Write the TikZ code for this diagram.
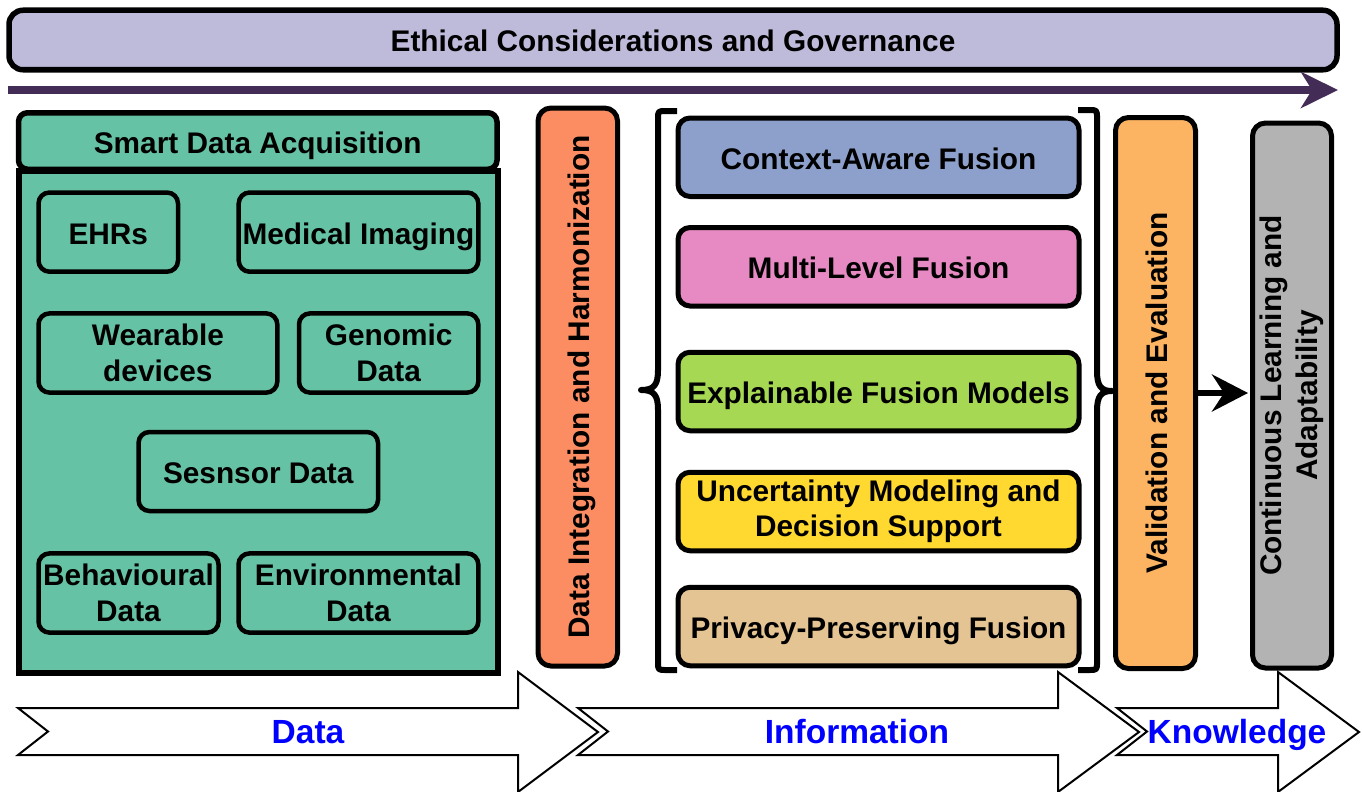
\documentclass[tikz,border=0pt]{standalone}
\usepackage{fontspec}
\setmainfont{Liberation Sans}
\usetikzlibrary{arrows.meta}
\definecolor{cTop}{HTML}{BEBADA}
\definecolor{cPurple}{RGB}{67,45,87}
\definecolor{cGreen}{HTML}{66C2A5}
\definecolor{cOrange}{HTML}{FC8D62}
\definecolor{cBlue}{HTML}{8DA0CB}
\definecolor{cPink}{HTML}{E78AC3}
\definecolor{cLime}{HTML}{A6D854}
\definecolor{cYellow}{HTML}{FFD92F}
\definecolor{cTan}{HTML}{E5C494}
\definecolor{cLOrange}{HTML}{FDB462}
\definecolor{cGrey}{HTML}{B3B3B3}
\definecolor{cLabel}{HTML}{0000FF}
\begin{document}
\begin{tikzpicture}[x=1pt,y=-1pt,
  txt/.style={font=\fontsize{29.8}{35.5}\selectfont\bfseries, align=center},
  capcentred/.style={text height=24pt, text depth=0pt},
  bx/.style={draw, line width=5.5pt, rounded corners=12pt, inner sep=0pt, txt},
  ibx/.style={draw, line width=4.5pt, rounded corners=11pt, inner sep=0pt, txt, fill=cGreen},
  fbx/.style={draw, line width=5pt, rounded corners=12pt, inner sep=0pt, txt, minimum width=401pt, minimum height=78.5pt},
  vbx/.style={draw, line width=5pt, rounded corners=13pt, inner sep=0pt, txt, rotate=90},
  bigarrow/.style={draw, line width=2pt, fill=white, line join=miter},
  brace/.style={draw, line width=6pt, line join=round, line cap=butt},
  lbl/.style={font=\fontsize{33.5}{38}\selectfont\bfseries, text=cLabel, inner sep=0pt, text height=24pt, text depth=0pt}]
\useasboundingbox (0,0) rectangle (1362,792);

% top bar
\node[bx, capcentred, fill=cTop, rounded corners=14pt, minimum width=1328pt, minimum height=59.5pt] (ethics) at (673,40) {Ethical Considerations and Governance};

% purple arrow
\coordinate (pa) at (8,90);
\coordinate (pb) at (1338,90);
\draw[cPurple, line width=8pt, -{Stealth[length=37pt,width=36pt,inset=11pt]}] (pa) -- (pb);

% smart data acquisition
\node[draw, line width=6pt, fill=cGreen, inner sep=0pt, minimum width=479.5pt, minimum height=502pt] (body) at (258.25,422) {};
\node[bx, capcentred, fill=cGreen, rounded corners=9pt, minimum width=478.5pt, minimum height=56.5pt] (smart) at (257.75,141) {Smart Data Acquisition};

\node[ibx, capcentred, minimum width=139.5pt, minimum height=79.2pt] (ehr) at (108.25,232.1) {EHRs};
\node[ibx, capcentred, minimum width=239.6pt, minimum height=79.2pt] (med) at (358.5,232.1) {Medical Imaging};
\node[ibx, minimum width=238.8pt, minimum height=79.2pt] (wear) at (157.9,353) {Wearable\\devices};
\node[ibx, minimum width=179.3pt, minimum height=79.2pt] (geno) at (388.65,353) {Genomic\\Data};
\node[ibx, capcentred, minimum width=239.5pt, minimum height=79pt] (sens) at (258.25,471.5) {Sesnsor Data};
\node[ibx, minimum width=180pt, minimum height=79.2pt] (behav) at (128.5,593) {Behavioural\\Data};
\node[ibx, minimum width=239.8pt, minimum height=79.2pt] (env) at (358.4,593) {Environmental\\Data};

% integration
\node[vbx, capcentred, fill=cOrange, minimum width=558pt, minimum height=79.5pt] (integ) at (577.75,387) {Data Integration and Harmonization};

% braces
\draw[brace] (677,111) -- (666,111) .. controls (658,111) .. (658,119) -- (658,370)
  .. controls (658,385) and (654,390) .. (641,390)
  .. controls (654,390) and (658,395) .. (658,410) -- (658,662)
  .. controls (658,670) .. (666,670) -- (677,670);
\draw[brace] (1078,110) -- (1089,110) .. controls (1097,110) .. (1097,118) -- (1097,371)
  .. controls (1097,386) and (1101,391) .. (1112,391)
  .. controls (1101,391) and (1097,396) .. (1097,411) -- (1097,662)
  .. controls (1097,670) .. (1089,670) -- (1078,670);

% fusion boxes
\node[fbx, capcentred, fill=cBlue] (ctx) at (878.5,157.25) {Context-Aware Fusion};
\node[fbx, capcentred, fill=cPink] (multi) at (878.5,266.75) {Multi-Level Fusion};
\node[fbx, capcentred, fill=cLime] (expl) at (878.5,391.5) {Explainable Fusion Models};
\node[fbx, fill=cYellow] (unc) at (878.5,511.5) {Uncertainty Modeling and\\Decision Support};
\node[fbx, capcentred, fill=cTan] (priv) at (878.5,626.5) {Privacy-Preserving Fusion};

% validation and continuous learning
\node[vbx, capcentred, fill=cLOrange, minimum width=551pt, minimum height=80pt] (val) at (1155.5,393) {Validation and Evaluation};
\node[vbx, fill=cGrey, minimum width=545pt, minimum height=79pt] (cont) at (1292,395.5) {Continuous Learning and\\Adaptability};
\draw[line width=5.5pt, -{Stealth[length=36pt,width=37pt,inset=12pt]}, shorten >=2pt] (val.south) -- (val.south -| cont.north);

% bottom arrows
\draw[bigarrow] (18,708) -- (518,708) -- (518,672) -- (598,732) -- (518,792) -- (518,755) -- (18,755) -- (48,731.5) -- cycle;
\draw[bigarrow] (578,708) -- (1058,708) -- (1058,672) -- (1139,732) -- (1058,792) -- (1058,755) -- (578,755) -- (608,731.5) -- cycle;
\draw[bigarrow] (1117,708) -- (1278,708) -- (1278,672) -- (1359,732) -- (1278,792) -- (1278,755) -- (1117,755) -- (1147,731.5) -- cycle;
\node[lbl] (ldata) at (308,731) {Data};
\node[lbl] (linfo) at (857,731) {Information};
\node[lbl] (lknow) at (1237,731) {Knowledge};
\end{tikzpicture}
\end{document}
